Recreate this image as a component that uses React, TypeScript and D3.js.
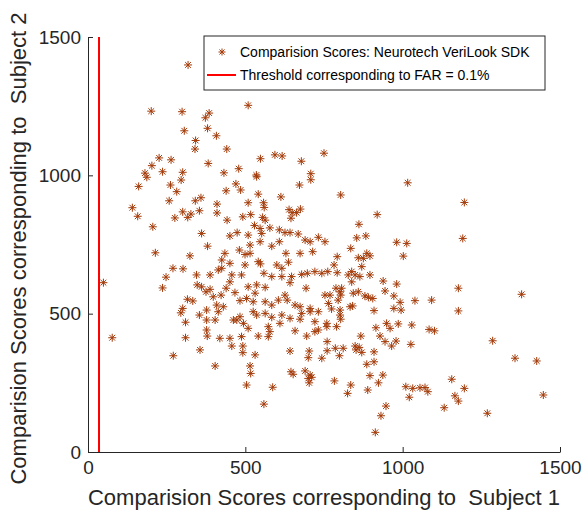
import React, { useEffect, useRef } from 'react';
import * as d3 from 'd3';

// [Subject 1 score, Subject 2 score]
const scores: [number, number][] = [
  [201, 1232], [299, 1230], [385, 1225], [373, 1208], [509, 1253], [306, 1161], [380, 1170], [408, 1143],
  [342, 1126], [340, 1095], [441, 1095], [226, 1063], [264, 1056], [203, 1035], [382, 1043], [548, 1060],
  [594, 1074], [617, 1070], [750, 1080], [181, 1008], [187, 993], [237, 1013], [301, 1011], [296, 983],
  [161, 960], [262, 965], [282, 941], [432, 1009], [479, 1024], [535, 1001], [536, 995], [439, 944],
  [470, 969], [485, 947], [541, 932], [613, 922], [672, 965], [678, 1051], [708, 1006], [708, 984],
  [141, 883], [158, 852], [206, 814], [258, 908], [341, 908], [359, 919], [301, 868], [276, 846],
  [317, 848], [327, 860], [354, 872], [410, 896], [410, 864], [442, 838], [509, 901], [492, 850],
  [517, 858], [558, 901], [560, 884], [555, 848], [563, 838], [639, 876], [649, 865], [663, 865],
  [675, 878], [645, 845], [529, 819], [547, 808], [578, 810], [608, 803], [214, 720], [324, 709],
  [270, 664], [302, 662], [345, 640], [248, 632], [318, 1399],
  [49, 612], [77, 413], [237, 593], [347, 604], [316, 552], [333, 546], [301, 519], [295, 503],
  [354, 495], [310, 469], [310, 413], [760, 399], [457, 383], [492, 383], [492, 359], [531, 351],
  [642, 365], [703, 365], [700, 341], [743, 339], [760, 366], [356, 369], [271, 348], [404, 311],
  [515, 311], [517, 284], [504, 242], [645, 290], [652, 281], [690, 293], [706, 278], [700, 266],
  [711, 270], [703, 250], [587, 234], [559, 173],
  [1177, 592], [1177, 510], [1378, 570], [1286, 402], [944, 399], [979, 401], [965, 383], [1026, 389],
  [786, 375], [811, 375], [799, 348], [849, 383], [862, 378], [852, 369], [870, 360], [909, 362],
  [909, 326], [886, 317], [1357, 339], [1426, 329], [783, 257], [835, 242], [825, 212], [896, 276],
  [937, 278], [923, 250], [889, 224], [947, 166], [931, 131], [913, 71], [1010, 236], [1032, 230],
  [1055, 232], [1071, 233], [1080, 218], [1021, 198], [1156, 263], [1196, 230], [1166, 203], [1177, 184],
  [1132, 160], [1269, 140], [1447, 206],
  [803, 929], [1016, 973], [1196, 902], [919, 858], [861, 823], [1191, 772],
  [541, 688], [548, 680], [600, 676], [616, 664], [637, 686], [559, 646], [584, 634], [616, 634],
  [647, 634], [642, 612], [626, 567], [679, 642], [697, 646], [721, 652], [743, 646], [762, 652],
  [693, 592], [753, 567], [764, 537], [563, 595], [536, 604], [509, 597], [531, 574], [525, 543],
  [467, 576], [451, 615], [439, 592], [423, 567], [398, 561], [375, 579], [388, 588], [361, 597],
  [483, 547], [504, 555], [563, 543], [584, 531], [605, 549], [633, 549], [658, 531], [674, 525],
  [706, 519], [679, 501], [706, 507], [732, 507], [525, 507], [536, 495], [563, 501], [584, 487],
  [616, 495], [642, 483], [610, 465], [674, 480], [721, 471], [759, 465], [473, 477], [483, 489],
  [414, 507], [409, 531], [430, 525], [462, 477], [377, 513], [377, 477], [404, 477], [377, 441],
  [379, 419], [419, 411], [451, 411], [488, 417], [541, 419], [573, 417], [509, 447], [494, 465],
  [573, 453], [578, 435], [658, 438], [695, 419], [721, 435], [732, 441], [759, 453],
  [361, 790], [451, 781], [474, 793], [509, 784], [552, 790], [547, 760], [515, 748], [380, 744],
  [435, 718], [481, 730], [499, 714], [515, 718], [584, 744], [608, 760], [626, 793], [642, 793],
  [668, 788], [690, 766], [706, 760], [732, 776], [753, 760], [674, 718], [714, 724], [629, 718],
  [425, 694], [451, 682], [499, 676], [388, 640], [414, 658], [425, 664], [457, 640], [488, 640],
  [854, 774], [883, 781], [981, 758], [1013, 754], [1002, 708], [835, 736], [792, 706], [859, 702],
  [875, 700], [886, 718], [896, 709], [782, 676], [870, 670], [792, 648], [838, 652], [827, 640],
  [849, 640], [864, 634], [896, 640], [838, 615], [938, 618], [981, 607], [944, 582], [972, 564],
  [992, 541], [1039, 547], [1092, 549], [769, 567], [788, 592], [801, 579], [806, 592], [803, 567],
  [795, 549], [843, 574], [859, 579], [880, 564], [891, 559], [905, 555], [774, 517], [801, 513],
  [801, 495], [833, 525], [841, 528], [803, 480], [909, 511], [972, 519], [995, 513], [949, 465],
  [960, 447], [986, 463], [1029, 459], [1084, 443], [1101, 438], [790, 453], [915, 449], [867, 419],
  [928, 419],
];

const thresholdFar = 35;
const xTicks = [0, 500, 1000, 1500];
const yTicks = [0, 500, 1000, 1500];
const legendLabels = ['Comparision Scores: Neurotech VeriLook SDK', 'Threshold corresponding to FAR = 0.1%'];
const xLabel = 'Comparision Scores corresponding to  Subject 1';
const yLabel = 'Comparision Scores corresponding to  Subject 2';

const markerColor = '#a33a08';
const axisColor = '#262626';
const font = '"Liberation Sans", Arial, Helvetica, sans-serif';

// MATLAB style '*' marker: plus + cross
const asterisk = (r: number) => {
  const d = r * 0.72;
  return `M${-r},0L${r},0M0,${-r}L0,${r}M${-d},${-d}L${d},${d}M${-d},${d}L${d},${-d}`;
};

const ScatterChart = () => {
  const svgRef = useRef<SVGSVGElement>(null);

  useEffect(() => {
    const svg = d3.select(svgRef.current);
    svg.selectAll('*').remove();

    const left = 88, right = 560, top = 37, bottom = 452;

    const x = d3.scaleLinear().domain([0, 1500]).range([left, right]);
    const y = d3.scaleLinear().domain([0, 1500]).range([bottom, top]);

    svg.append('rect').attr('width', 588).attr('height', 515).attr('fill', 'white');

    // points
    svg.append('g')
      .selectAll('path')
      .data(scores)
      .join('path')
      .attr('transform', d => `translate(${x(d[0])},${y(d[1])})`)
      .attr('d', asterisk(4))
      .attr('fill', 'none')
      .attr('stroke', markerColor)
      .attr('stroke-width', 1);

    // threshold line
    svg.append('line')
      .attr('x1', x(thresholdFar)).attr('x2', x(thresholdFar))
      .attr('y1', y(0)).attr('y2', y(1500))
      .attr('stroke', '#ff0000')
      .attr('stroke-width', 2);

    // axes
    const fmt = d3.format('d');
    const xAxis = svg.append('g')
      .attr('transform', `translate(0,${bottom})`)
      .call(d3.axisBottom(x).tickValues(xTicks).tickFormat(fmt).tickSizeInner(-5).tickSizeOuter(0).tickPadding(9));
    const yAxis = svg.append('g')
      .attr('transform', `translate(${left},0)`)
      .call(d3.axisLeft(y).tickValues(yTicks).tickFormat(fmt).tickSizeInner(-5).tickSizeOuter(0).tickPadding(7));

    [xAxis, yAxis].forEach(a => {
      a.select('.domain').attr('stroke', axisColor);
      a.selectAll('.tick line').attr('stroke', axisColor);
      a.selectAll('.tick text')
        .attr('fill', axisColor)
        .attr('font-size', 19)
        .attr('font-family', font);
    });

    // axis titles
    svg.append('text')
      .attr('x', (left + right) / 2)
      .attr('y', 505)
      .attr('text-anchor', 'middle')
      .attr('font-size', 22)
      .attr('font-family', font)
      .attr('fill', axisColor)
      .style('white-space', 'pre')
      .text(xLabel);

    svg.append('text')
      .attr('transform', `translate(26,${(top + bottom) / 2 + 4}) rotate(-90)`)
      .attr('text-anchor', 'middle')
      .attr('font-size', 22)
      .attr('font-family', font)
      .attr('fill', axisColor)
      .style('white-space', 'pre')
      .text(yLabel);

    // legend
    const legend = svg.append('g').attr('transform', 'translate(204,36)');
    legend.append('rect')
      .attr('width', 341).attr('height', 54)
      .attr('fill', 'white')
      .attr('stroke', axisColor)
      .attr('stroke-width', 1);

    legend.append('path')
      .attr('transform', 'translate(18,16)')
      .attr('d', asterisk(3.5))
      .attr('fill', 'none')
      .attr('stroke', markerColor);
    legend.append('line')
      .attr('x1', 3).attr('x2', 32)
      .attr('y1', 39).attr('y2', 39)
      .attr('stroke', '#ff0000')
      .attr('stroke-width', 2);

    legend.selectAll('text.lbl')
      .data(legendLabels)
      .join('text')
      .attr('class', 'lbl')
      .attr('x', 36)
      .attr('y', (d, i) => 21 + i * 23)
      .attr('font-size', 14)
      .attr('font-family', font)
      .attr('fill', '#000')
      .text(d => d);
  }, []);

  return (
    <svg ref={svgRef} width={588} height={515} style={{ position: 'absolute', left: 0, top: 0 }}></svg>
  );
};

export default function App() {
  return <ScatterChart />;
}
